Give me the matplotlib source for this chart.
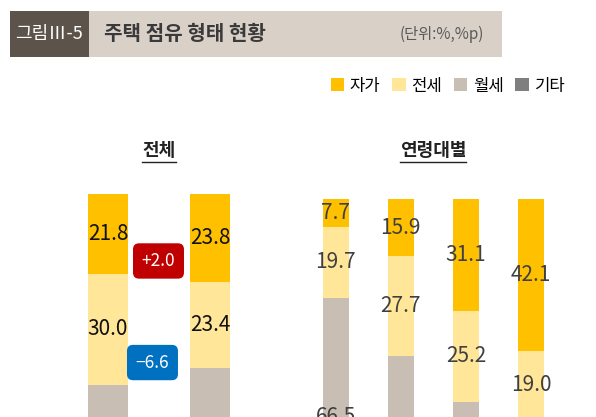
import matplotlib.pyplot as plt
import numpy as np
from matplotlib.patches import Patch, Rectangle
from matplotlib.lines import Line2D

plt.rcParams["font.family"] = ["Noto Sans CJK KR", "DejaVu Sans"]

# stacked shares (%), order bottom -> top: 기타, 월세, 전세, 자가
CATS = ["자가", "전세", "월세", "기타"]
COLORS = {"자가": "#FFC000", "전세": "#FFE699", "월세": "#C9BEB3", "기타": "#7F7F7F"}

# 전체 (two survey years); lower segments are cut off in the source picture
total_own = [21.8, 23.8]
total_jeonse = [30.0, 23.4]
total_monthly = [44.6, 49.4]
total_other = [3.6, 3.4]

# 연령대별
age_own = [7.7, 15.9, 31.1, 42.1]
age_jeonse = [19.7, 27.7, 25.2, 19.0]
age_monthly = [66.5, 52.0, 40.3, 35.6]
age_other = [6.1, 4.4, 3.4, 3.3]

W, H = 596, 417
fig = plt.figure(figsize=(W / 100, H / 100), dpi=100)


def px_axes(x0, x1, top, bottom):
    # axes placed in pixel coords (y measured from top); may run off the figure
    return fig.add_axes([x0 / W, 1 - bottom / H, (x1 - x0) / W, (bottom - top) / H])


def stacked(ax, own, jeonse, monthly, other, color_txt, fs):
    x = np.arange(len(own))
    layers = [("기타", other), ("월세", monthly), ("전세", jeonse), ("자가", own)]
    base = np.zeros(len(own))
    for name, vals in layers:
        vals = np.array(vals)
        ax.bar(x, vals, bottom=base, width=0.4, color=COLORS[name], linewidth=0)
        if name != "기타":
            for xi, b, v in zip(x, base, vals):
                # skip labels that fall entirely below the visible area
                y_px = ax.transData.transform((xi, b + v / 2))[1]
                if y_px < -6:
                    continue
                ax.text(xi, b + v / 2, f"{v:.1f}", ha="center", va="center",
                        fontsize=fs, color=color_txt)
        base += vals
    ax.axis("off")


# header band
fig.add_artist(Rectangle((10 / W, 1 - 57 / H), 492 / W, 46 / H,
                         transform=fig.transFigure, color="#D9D1C8", lw=0))
fig.add_artist(Rectangle((10 / W, 1 - 57 / H), 79 / W, 46 / H,
                         transform=fig.transFigure, color="#5C544A", lw=0))
fig.text(49.5 / W, 1 - 34 / H, "그림Ⅲ-5", color="white", fontsize=13,
         ha="center", va="center")
fig.text(104 / W, 1 - 33 / H, "주택 점유 형태 현황", color="#3A3A3A", fontsize=14.5,
         fontweight="bold", ha="left", va="center")
fig.text(484 / W, 1 - 34 / H, "(단위:%,%p)", color="#595959", fontsize=11,
         ha="right", va="center")

# legend
handles = [Patch(facecolor=COLORS[c], edgecolor="none", label=c) for c in CATS]
fig.legend(handles=handles, loc="center right", bbox_to_anchor=(572 / W, 1 - 86 / H),
           ncol=4, frameon=False, fontsize=12, handlelength=0.8, handleheight=0.8,
           handletextpad=0.35, columnspacing=0.7, borderaxespad=0)

# panels
ax1 = px_axes(57, 261, 194, 194 + 368)
ax1.set_ylim(0, 100)
ax1.set_xlim(-0.5, 1.5)
stacked(ax1, total_own, total_jeonse, total_monthly, total_other, "#111111", 15)

ax2 = px_axes(303.2, 563.5, 199, 199 + 360)
ax2.set_ylim(0, 100)
ax2.set_xlim(-0.5, 3.5)
stacked(ax2, age_own, age_jeonse, age_monthly, age_other, "#404040", 15)

# change badges between the two 전체 bars
d_own = total_own[1] - total_own[0]
d_jeonse = total_jeonse[1] - total_jeonse[0]
badge = "round,pad=0.5,rounding_size=0.35"
ax1.text(0.495, 81.8, f"+{d_own:.1f}", ha="center", va="center", color="white",
         fontsize=12.5, bbox=dict(boxstyle=badge, fc="#C00000", ec="none"))
ax1.text(0.436, 54.2, f"−{abs(d_jeonse):.1f}", ha="center", va="center", color="white",
         fontsize=12.5, bbox=dict(boxstyle=badge, fc="#0070C0", ec="none"))

# section titles, underlined
titles = [
    fig.text(159 / W, 1 - 151 / H, "전체", fontsize=13, fontweight="bold",
             ha="center", va="center", color="#222222"),
    fig.text(433 / W, 1 - 151 / H, "연령대별", fontsize=13, fontweight="bold",
             ha="center", va="center", color="#222222"),
]
fig.canvas.draw()
r = fig.canvas.get_renderer()
for t in titles:
    bb = t.get_window_extent(r)
    fig.add_artist(Line2D([bb.x0 / W, bb.x1 / W], [(bb.y0 - 1) / H, (bb.y0 - 1) / H],
                          transform=fig.transFigure, color="#222222", lw=1.0))

fig.savefig("out.png", dpi=100)
